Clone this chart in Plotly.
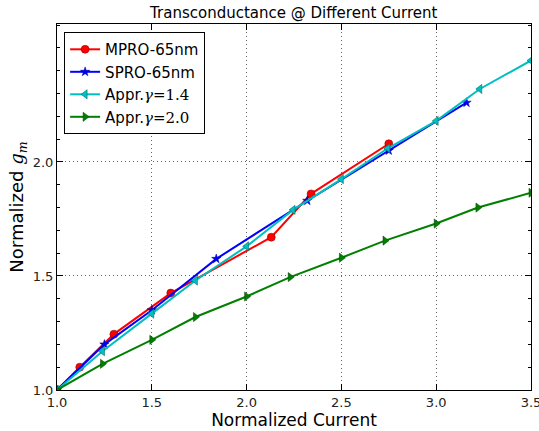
import plotly.graph_objects as go

# Data
mpro_x = [1.0, 1.12, 1.30, 1.60, 2.13, 2.34, 2.75]
mpro_y = [1.0, 1.10, 1.245, 1.425, 1.67, 1.86, 2.08]

spro_x = [1.0, 1.25, 1.50, 1.84, 2.32, 2.75, 3.16]
spro_y = [1.0, 1.20, 1.35, 1.575, 1.83, 2.05, 2.26]

appr14_x = [1.0, 1.24, 1.50, 1.73, 2.0, 2.245, 2.50, 2.745, 3.0, 3.23, 3.5]
appr14_y = [1.0, 1.17, 1.335, 1.48, 1.63, 1.79, 1.925, 2.06, 2.18, 2.32, 2.445]

appr20_x = [1.0, 1.24, 1.50, 1.73, 2.0, 2.23, 2.50, 2.73, 3.0, 3.22, 3.5]
appr20_y = [1.0, 1.115, 1.22, 1.32, 1.41, 1.495, 1.58, 1.655, 1.73, 1.80, 1.865]

x_ticks = [1.0, 1.5, 2.0, 2.5, 3.0, 3.5]
y_ticks = [1.0, 1.5, 2.0]

MATH = "DejaVu Serif"

def mathlbl(g):
    return f"Appr.<span style='font-family:{MATH}'><i>γ</i>=</span><span style='font-family:{MATH}'>{g}</span>"

fig = go.Figure()
fig.add_trace(go.Scatter(x=mpro_x, y=mpro_y, mode="lines+markers", name="MPRO-65nm",
                         line=dict(color="#ff0000", width=2),
                         marker=dict(symbol="circle", size=8, color="#ff0000",
                                     line=dict(color="#800000", width=0.5))))
fig.add_trace(go.Scatter(x=spro_x, y=spro_y, mode="lines+markers", name="SPRO-65nm",
                         line=dict(color="#0000ff", width=2),
                         marker=dict(symbol="star", size=7, color="#0000ff",
                                     line=dict(color="#000080", width=0.5))))
fig.add_trace(go.Scatter(x=appr14_x, y=appr14_y, mode="lines+markers", name=mathlbl("1.4"),
                         line=dict(color="#00bfbf", width=2),
                         marker=dict(symbol="triangle-left", size=8, color="#00bfbf",
                                     line=dict(color="#005f5f", width=0.5))))
fig.add_trace(go.Scatter(x=appr20_x, y=appr20_y, mode="lines+markers", name=mathlbl("2.0"),
                         line=dict(color="#008000", width=2),
                         marker=dict(symbol="triangle-right", size=8, color="#008000",
                                     line=dict(color="#004000", width=0.5))))

axis_common = dict(showline=True, linecolor="black", linewidth=1, mirror="ticks",
                   ticks="inside", ticklen=6, tickcolor="black", automargin=False,
                   ticklabeloverflow="allow",
                   showgrid=True, gridcolor="#666666", griddash="1px,3px", gridwidth=1,
                   zeroline=False, tickfont=dict(family="DejaVu Sans", size=13, color="#222"))

fig.update_xaxes(range=[1.0, 3.5], tickvals=x_ticks,
                 ticktext=[f"{v:.1f}" for v in x_ticks],
                 title=dict(text="Normalized Current", font=dict(family="DejaVu Sans", size=17, color="black"),
                            standoff=3),
                 **axis_common)
fig.update_yaxes(range=[1.0, 2.605], tickvals=y_ticks,
                 ticktext=[f"{v:.1f}" for v in y_ticks],
                 minor=dict(dtick=0.1, tick0=1.0, ticks="inside", ticklen=3, tickcolor="black", showgrid=False),
                 title=dict(text=f"Normalized <span style='font-family:{MATH}'><i>g</i><sub><i>m</i></sub></span>",
                            font=dict(family="DejaVu Sans", size=18, color="black"), standoff=4),
                 **axis_common)

fig.update_layout(
    width=539, height=431,
    margin=dict(l=57, r=8, t=24, b=41, autoexpand=False),
    paper_bgcolor="white", plot_bgcolor="white",
    title=dict(text="Transconductance @ Different Current", x=0.545, xanchor="center",
               yref="container", y=1 - 13 / 431, yanchor="middle",
               font=dict(family="DejaVu Sans", size=15, color="black")),
    legend=dict(x=0.015, y=0.978, xanchor="left", yanchor="top",
                bordercolor="black", borderwidth=1, bgcolor="white",
                font=dict(family="DejaVu Sans", size=15, color="black"),
                itemwidth=30, tracegroupgap=0),
    showlegend=True,
)

fig.write_html("out.html", config={"displayModeBar": False},
               post_script="document.body.style.margin='0';document.body.style.overflow='hidden';")
